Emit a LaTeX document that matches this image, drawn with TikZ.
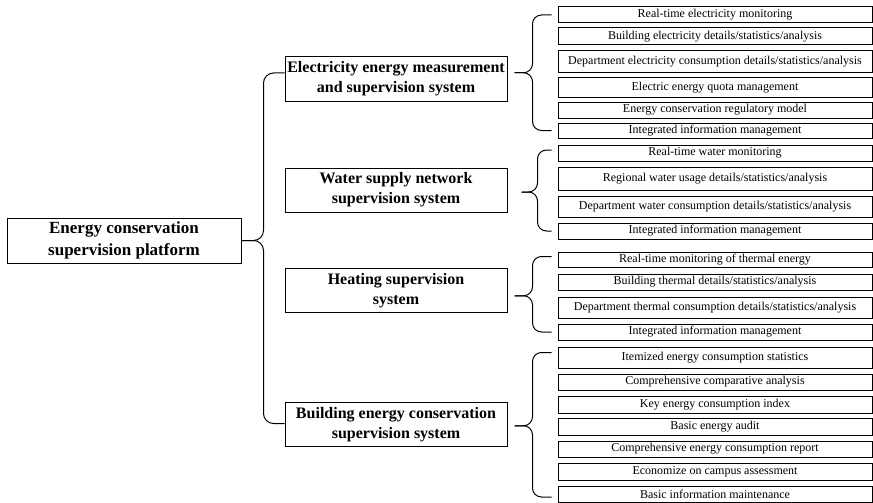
\documentclass[tikz,border=0pt]{standalone}
\usepackage{fontspec}
\setmainfont{Liberation Serif}
\usetikzlibrary{calc}

\tikzset{
  rootbox/.style={draw, line width=1pt, minimum width=234pt, minimum height=45pt, inner sep=0pt, align=center, font=\fontsize{17}{22}\selectfont\bfseries},
  sysbox/.style={draw, line width=1pt, minimum width=222pt, minimum height=44pt, inner sep=0pt, align=center, font=\fontsize{16}{20}\selectfont\bfseries},
  itembox/.style={draw, line width=1pt, minimum width=314pt, inner sep=0pt, font=\fontsize{12}{14}\selectfont},
  brc/.style={line width=1pt, rounded corners=9pt},
}

\begin{document}
\begin{tikzpicture}[x=1pt,y=-1pt]
\useasboundingbox (0,0) rectangle (873,503);
% platform and the four systems
\node[rootbox] (root) at (124,240.5) {Energy conservation\\supervision platform};
\node[sysbox] (elec) at (396,79) {Electricity energy measurement\\and supervision system};
\node[sysbox] (water) at (396,190) {Water supply network\\supervision system};
\node[sysbox] (heat) at (396,290.5) {Heating supervision\\system};
\node[sysbox] (build) at (396,424.5) {Building energy conservation\\supervision system};
% electricity
\node[itembox, minimum height=16pt] (e1) at (715,15) {Real-time electricity monitoring};
\node[itembox, minimum height=17pt] (e2) at (715,36.5) {Building electricity details/statistics/analysis};
\node[itembox, minimum height=22pt] (e3) at (715,62) {Department electricity consumption details/statistics/analysis};
\node[itembox, minimum height=19pt] (e4) at (715,87.5) {Electric energy quota management};
\node[itembox, minimum height=16pt] (e5) at (715,110) {Energy conservation regulatory model};
\node[itembox, minimum height=15pt] (e6) at (715,130.5) {Integrated information management};
% water
\node[itembox, minimum height=16pt] (w1) at (715,153) {Real-time water monitoring};
\node[itembox, minimum height=23pt] (w2) at (715,178.5) {Regional water usage details/statistics/analysis};
\node[itembox, minimum height=21pt] (w3) at (715,206.5) {Department water consumption details/statistics/analysis};
\node[itembox, minimum height=16pt] (w4) at (715,231) {Integrated information management};
% heating
\node[itembox, minimum height=15pt] (h1) at (715,259.5) {Real-time monitoring of thermal energy};
\node[itembox, minimum height=16pt] (h2) at (715,282) {Building thermal details/statistics/analysis};
\node[itembox, minimum height=21pt] (h3) at (715,307.5) {Department thermal consumption details/statistics/analysis};
\node[itembox, minimum height=16pt] (h4) at (715,332) {Integrated information management};
% building
\node[itembox, minimum height=21pt] (b1) at (715,357.5) {Itemized energy consumption statistics};
\node[itembox, minimum height=16pt] (b2) at (715,382) {Comprehensive comparative analysis};
\node[itembox, minimum height=17pt] (b3) at (715,404.5) {Key energy consumption index};
\node[itembox, minimum height=17pt] (b4) at (715,426.5) {Basic energy audit};
\node[itembox, minimum height=16pt] (b5) at (715,449) {Comprehensive energy consumption report};
\node[itembox, minimum height=17pt] (b6) at (715,471.5) {Economize on campus assessment};
\node[itembox, minimum height=16pt] (b7) at (715,494) {Basic information maintenance};
% braces
\draw[brc, rounded corners=10pt] (root.east) -- ++(22,0) |- ([yshift=6pt]elec.west);
\draw[brc, rounded corners=10pt] (root.east) -- ++(22,0) |- ([yshift=1pt]build.west);
\coordinate (etip) at ($(e1.west)!0.5!(e6.west)+(-43,0)$);
\draw[brc] (etip) -- ++(18,0) |- ([xshift=-6pt]e1.west);
\draw[brc] (etip) -- ++(18,0) |- ([xshift=-6pt]e6.west);
\coordinate (wtip) at ($(w1.west)!0.5!(w4.west)+(-36,0)$);
\draw[brc] (wtip) -- ++(16,0) |- ([xshift=-6pt,yshift=3pt]w1.west);
\draw[brc] (wtip) -- ++(16,0) |- ([xshift=-6pt]w4.west);
\coordinate (htip) at ($(h1.west)!0.5!(h4.west)+(-43,0)$);
\draw[brc] (htip) -- ++(18,0) |- ([xshift=-6pt,yshift=3pt]h1.west);
\draw[brc] (htip) -- ++(18,0) |- ([xshift=-6pt]h4.west);
\coordinate (btip) at ($(b1.west)!0.5!(b7.west)+(-43,0)$);
\draw[brc] (btip) -- ++(18,0) |- ([xshift=-6pt,yshift=5pt]b1.west);
\draw[brc] (btip) -- ++(18,0) |- ([xshift=-6pt,yshift=-3pt]b7.west);
\end{tikzpicture}
\end{document}
